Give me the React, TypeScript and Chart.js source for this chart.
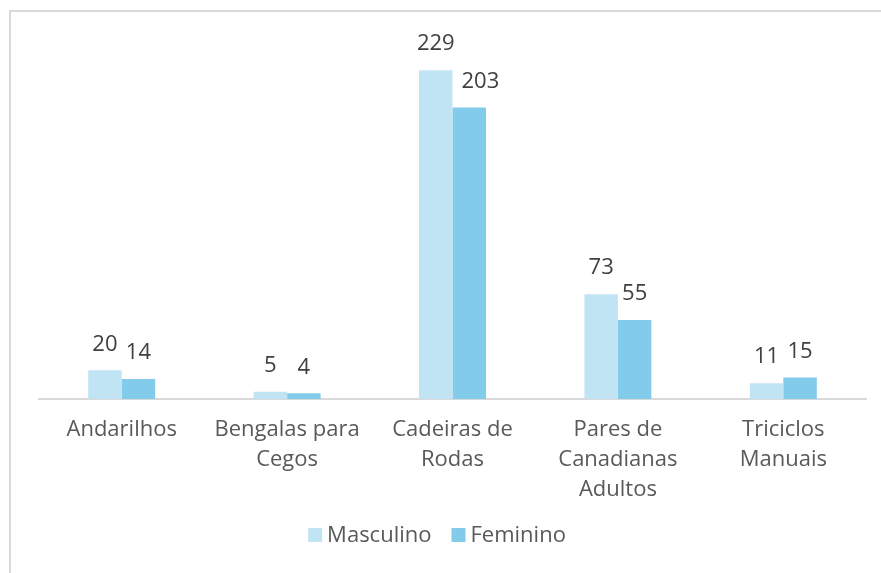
import React, { useEffect, useRef } from "react";
import { Chart, registerables } from "chart.js";

Chart.register(...registerables);

const categories: string[][] = [
  ["Andarilhos"],
  ["Bengalas para", "Cegos"],
  ["Cadeiras de", "Rodas"],
  ["Pares de", "Canadianas", "Adultos"],
  ["Triciclos", "Manuais"],
];
const masculino: number[] = [20, 5, 229, 73, 11];
const feminino: number[] = [14, 4, 203, 55, 15];
const seriesNames: string[] = ["Masculino", "Feminino"];
const seriesColors: string[] = ["#c1e4f5", "#83cbeb"];

const FONT = "'Open Sans', 'Noto Sans', sans-serif";
const FONT_SIZE = 22;

const framePlugin = {
  id: "frame",
  beforeDraw(chart: any) {
    const ctx = chart.ctx;
    ctx.save();
    ctx.fillStyle = "#ffffff";
    ctx.fillRect(0, 0, chart.width, chart.height);
    ctx.strokeStyle = "#d9d9d9";
    ctx.lineWidth = 2;
    ctx.strokeRect(10, 11, chart.width + 50, chart.height + 50);
    ctx.restore();
  },
};

const labelPlugin = {
  id: "barLabels",
  afterDatasetsDraw(chart: any) {
    const ctx = chart.ctx;
    ctx.save();
    ctx.font = `${FONT_SIZE}px ${FONT}`;
    ctx.fillStyle = "#404040";
    ctx.textAlign = "center";
    ctx.textBaseline = "middle";
    chart.data.datasets.forEach((ds: any, di: number) => {
      const meta = chart.getDatasetMeta(di);
      meta.data.forEach((bar: any, i: number) => {
        const text = String(ds.data[i]);
        const w = ctx.measureText(text).width;
        let x = bar.x;
        const y = bar.y - 26;
        if (di > 0) {
          const prev = chart.getDatasetMeta(di - 1).data[i];
          const prevRight = prev.x + prev.width / 2;
          // avoid overlapping a taller neighbouring bar
          if (prev.y < y + 11 && x - w / 2 < prevRight + 1) {
            x = prevRight + 9 + w / 2;
          }
        }
        ctx.fillText(text, x, y);
      });
    });
    ctx.restore();
  },
};

const legendPlugin = {
  id: "customLegend",
  afterDraw(chart: any) {
    const ctx = chart.ctx;
    ctx.save();
    ctx.font = `${FONT_SIZE}px ${FONT}`;
    ctx.textBaseline = "middle";
    ctx.textAlign = "left";
    const box = 14;
    const gap = 5;
    const spacing = 20;
    const items = chart.data.datasets.map((ds: any) => ({
      label: ds.label,
      color: ds.backgroundColor,
      w: ctx.measureText(ds.label).width,
    }));
    const total =
      items.reduce((s: number, it: any) => s + box + gap + it.w, 0) +
      spacing * (items.length - 1);
    let x = 437 - total / 2;
    const y = 535;
    items.forEach((it: any) => {
      ctx.fillStyle = it.color;
      ctx.fillRect(x, y - box / 2, box, box);
      x += box + gap;
      ctx.fillStyle = "#595959";
      ctx.fillText(it.label, x, y + 1);
      x += it.w + spacing;
    });
    ctx.restore();
  },
};

export default function App() {
  const ref = useRef<HTMLCanvasElement | null>(null);
  useEffect(() => {
    if (!ref.current) return;
    const chart = new Chart(ref.current, {
      type: "bar",
      data: {
        labels: categories,
        datasets: [
          {
            label: seriesNames[0],
            data: masculino,
            backgroundColor: seriesColors[0],
            categoryPercentage: 0.405,
            barPercentage: 1,
          },
          {
            label: seriesNames[1],
            data: feminino,
            backgroundColor: seriesColors[1],
            categoryPercentage: 0.405,
            barPercentage: 1,
          },
        ],
      },
      options: {
        responsive: false,
        animation: false,
        devicePixelRatio: 1,
        layout: { padding: { left: 39, right: 15, top: 40, bottom: 52 } },
        scales: {
          y: { display: false, min: 0, max: 250 },
          x: {
            grid: { display: false, drawTicks: false },
            border: { display: true, color: "#d9d9d9", width: 2 },
            ticks: {
              color: "#595959",
              font: { family: FONT, size: FONT_SIZE, lineHeight: "30px" as any },
              padding: 16,
              maxRotation: 0,
              autoSkip: false,
            },
          },
        },
        plugins: {
          legend: { display: false },
          tooltip: { enabled: false },
        },
      },
      plugins: [framePlugin, labelPlugin, legendPlugin],
    });
    return () => chart.destroy();
  }, []);
  return (
    <div style={{ position: "fixed", left: 0, top: 0, width: 881, height: 573, background: "#fff" }}>
      <canvas ref={ref} width={881} height={573} />
    </div>
  );
}
